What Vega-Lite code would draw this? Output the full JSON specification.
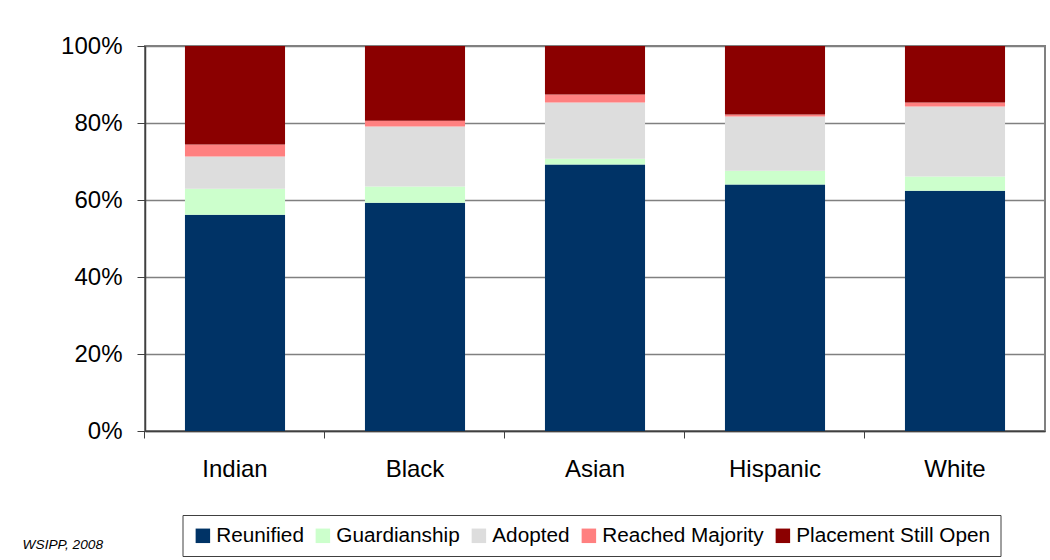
{
  "$schema": "https://vega.github.io/schema/vega-lite/v6.json",
  "width": 900,
  "height": 385,
  "autosize": {"type": "none"},
  "padding": {"left": 145, "top": 46, "right": 5, "bottom": 129},
  "background": "white",
  "title": {
    "text": "WSIPP, 2008",
    "orient": "bottom",
    "anchor": "start",
    "fontSize": 13.7,
    "fontStyle": "italic",
    "fontWeight": "normal",
    "color": "#000000",
    "dx": -38,
    "offset": -19
  },
  "data": {
    "values": [
      {"group": "Indian", "outcome": "Reunified", "ord": 1, "pct": 56.2},
      {"group": "Indian", "outcome": "Guardianship", "ord": 2, "pct": 6.7},
      {"group": "Indian", "outcome": "Adopted", "ord": 3, "pct": 8.4},
      {"group": "Indian", "outcome": "Reached Majority", "ord": 4, "pct": 3.1},
      {"group": "Indian", "outcome": "Placement Still Open", "ord": 5, "pct": 25.6},
      {"group": "Black", "outcome": "Reunified", "ord": 1, "pct": 59.3},
      {"group": "Black", "outcome": "Guardianship", "ord": 2, "pct": 4.2},
      {"group": "Black", "outcome": "Adopted", "ord": 3, "pct": 15.6},
      {"group": "Black", "outcome": "Reached Majority", "ord": 4, "pct": 1.5},
      {"group": "Black", "outcome": "Placement Still Open", "ord": 5, "pct": 19.4},
      {"group": "Asian", "outcome": "Reunified", "ord": 1, "pct": 69.2},
      {"group": "Asian", "outcome": "Guardianship", "ord": 2, "pct": 1.5},
      {"group": "Asian", "outcome": "Adopted", "ord": 3, "pct": 14.6},
      {"group": "Asian", "outcome": "Reached Majority", "ord": 4, "pct": 2.1},
      {"group": "Asian", "outcome": "Placement Still Open", "ord": 5, "pct": 12.6},
      {"group": "Hispanic", "outcome": "Reunified", "ord": 1, "pct": 64.0},
      {"group": "Hispanic", "outcome": "Guardianship", "ord": 2, "pct": 3.6},
      {"group": "Hispanic", "outcome": "Adopted", "ord": 3, "pct": 14.1},
      {"group": "Hispanic", "outcome": "Reached Majority", "ord": 4, "pct": 0.5},
      {"group": "Hispanic", "outcome": "Placement Still Open", "ord": 5, "pct": 17.8},
      {"group": "White", "outcome": "Reunified", "ord": 1, "pct": 62.4},
      {"group": "White", "outcome": "Guardianship", "ord": 2, "pct": 3.7},
      {"group": "White", "outcome": "Adopted", "ord": 3, "pct": 18.2},
      {"group": "White", "outcome": "Reached Majority", "ord": 4, "pct": 1.0},
      {"group": "White", "outcome": "Placement Still Open", "ord": 5, "pct": 14.7}
    ]
  },
  "mark": {"type": "bar"},
  "encoding": {
    "x": {
      "field": "group",
      "type": "nominal",
      "sort": ["Indian", "Black", "Asian", "Hispanic", "White"],
      "scale": {"paddingInner": 0.444, "paddingOuter": 0.222},
      "axis": {
        "title": null,
        "labelAngle": 0,
        "labelFontSize": 24,
        "labelColor": "#000000",
        "bandPosition": -0.4,
        "tickSize": 7,
        "tickColor": "#404040",
        "domainColor": "#404040",
        "domainWidth": 1.5,
        "labelPadding": 19,
        "grid": false
      }
    },
    "y": {
      "field": "pct",
      "type": "quantitative",
      "stack": "zero",
      "scale": {"domain": [0, 100]},
      "axis": {
        "title": null,
        "values": [0, 20, 40, 60, 80, 100],
        "labelExpr": "datum.value + '%'",
        "labelFontSize": 24,
        "labelColor": "#000000",
        "tickSize": 8,
        "tickColor": "#404040",
        "domainColor": "#404040",
        "domainWidth": 1.5,
        "labelPadding": 15,
        "grid": true,
        "gridColor": "#808080",
        "gridWidth": 1.5
      }
    },
    "color": {
      "field": "outcome",
      "type": "nominal",
      "scale": {
        "domain": ["Reunified", "Guardianship", "Adopted", "Reached Majority", "Placement Still Open"],
        "range": ["#003366", "#CCFFCC", "#DDDDDD", "#FF8080", "#8B0000"]
      },
      "legend": {
        "title": null,
        "orient": "none",
        "legendX": 37.5,
        "legendY": 469,
        "direction": "horizontal",
        "labelFontSize": 20.75,
        "labelColor": "#000000",
        "labelLimit": 400,
        "symbolType": "square",
        "symbolSize": 210,
        "symbolStrokeWidth": 0,
        "symbolOpacity": 1,
        "labelOffset": 3,
        "columnPadding": 8,
        "padding": 10,
        "strokeColor": "#404040",
        "fillColor": "#FFFFFF"
      }
    },
    "order": {"field": "ord", "type": "quantitative", "sort": "ascending"}
  },
  "config": {
    "font": "Liberation Sans",
    "view": {"stroke": "#808080", "strokeWidth": 2}
  }
}
